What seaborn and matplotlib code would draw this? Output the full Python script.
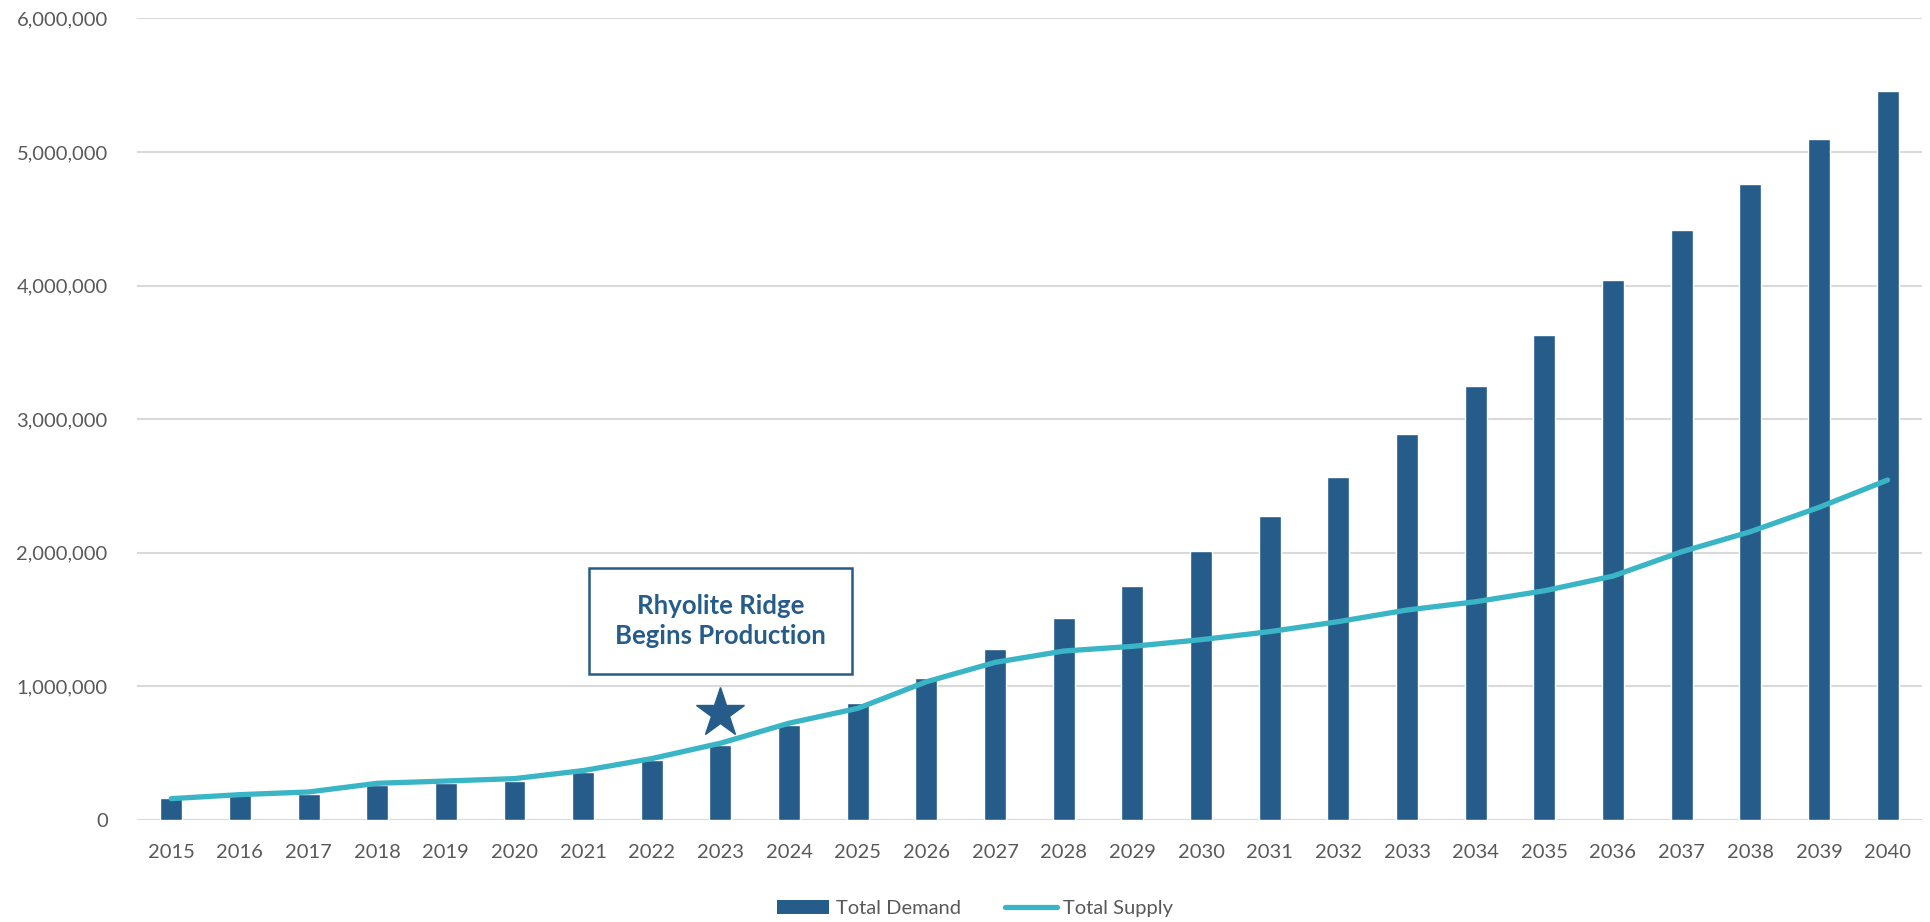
import numpy as np
import matplotlib
matplotlib.use("Agg")
import matplotlib.pyplot as plt
import seaborn as sns
from matplotlib.patches import Patch
from matplotlib.lines import Line2D
from matplotlib.ticker import FuncFormatter

# --- data ---
years = [str(y) for y in range(2015, 2041)]
total_demand = [162000, 185000, 195000, 260000, 275000, 290000, 360000, 450000,
                560000, 710000, 876000, 1063000, 1280000, 1510000, 1750000, 2010000,
                2277000, 2570000, 2890000, 3250000, 3630000, 4044000, 4420000,
                4760000, 5095000, 5455000]
total_supply = [160000, 190000, 210000, 275000, 292000, 310000, 370000, 460000,
                575000, 725000, 836000, 1035000, 1180000, 1265000, 1300000, 1350000,
                1410000, 1485000, 1572000, 1634000, 1716000, 1826000, 2008000,
                2158000, 2340000, 2545000]
y_ticks = [0, 1000000, 2000000, 3000000, 4000000, 5000000, 6000000]
note_text = "Rhyolite Ridge\nBegins Production"
note_year = "2023"

BAR_COLOR = "#265C8A"
LINE_COLOR = "#3AB5C6"
TEXT_COLOR = "#595959"
GRID_COLOR = "#D9D9D9"

sns.set_style("white")
plt.rcParams["font.family"] = ["Lato", "DejaVu Sans"]

fig = plt.figure(figsize=(19.31, 9.22), dpi=100)
ax = fig.add_axes([0.0709, 0.1106, 0.9244, 0.8694])

sns.barplot(x=years, y=total_demand, color=BAR_COLOR, width=0.32,
            saturation=1, ax=ax, zorder=2)
sns.lineplot(x=np.arange(len(years)), y=total_supply, color=LINE_COLOR,
             linewidth=3.8, ax=ax, zorder=3, solid_capstyle="round",
             solid_joinstyle="round")

ax.set_xlim(-0.5, len(years) - 0.5)
ax.set_ylim(0, 6000000)
ax.set_yticks(y_ticks)
ax.yaxis.set_major_formatter(FuncFormatter(lambda v, p: f"{int(v):,}"))
ax.yaxis.grid(True, color=GRID_COLOR, linewidth=1.5, zorder=0)
ax.set_axisbelow(True)
for s in ax.spines.values():
    s.set_visible(False)
ax.tick_params(axis="both", length=0, labelsize=14.5, colors=TEXT_COLOR)
ax.tick_params(axis="y", pad=21)
ax.tick_params(axis="x", pad=17)
ax.set_xlabel("")
ax.set_ylabel("")

# annotation box and star
xi = years.index(note_year)
ax.text(xi, 1490000, note_text, ha="center", va="center", fontsize=18.5,
        fontweight="bold", color=BAR_COLOR, linespacing=1.3,
        bbox=dict(boxstyle="square,pad=1.0", facecolor="white",
                  edgecolor=BAR_COLOR, linewidth=1.8), zorder=5)
ax.plot([xi], [800000], marker="*", markersize=37, color=BAR_COLOR,
        linestyle="none", zorder=5)

handles = [Patch(facecolor=BAR_COLOR, edgecolor="none"),
           Line2D([0], [0], color=LINE_COLOR, linewidth=3.8, solid_capstyle="round")]
fig.legend(handles, ["Total Demand", "Total Supply"], loc="center",
           bbox_to_anchor=(0.505, 0.015), ncol=2, frameon=False, fontsize=14.5,
           labelcolor=TEXT_COLOR, handlelength=2.6, handletextpad=0.3,
           columnspacing=2.2)

fig.savefig("out.png", dpi=100)
